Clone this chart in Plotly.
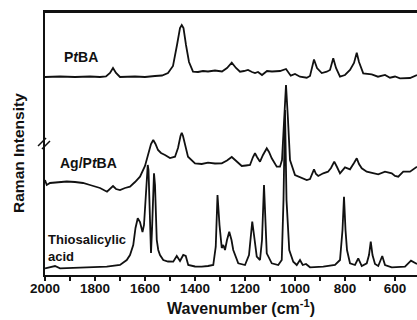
import plotly.graph_objects as go

# ---- data (wavenumber in cm^-1, intensity in arbitrary offset units) ----
ptba_wavenumber = [2000,1940,1880,1820,1780,1756,1740,1728,1716,1700,
                   1640,1600,1560,1532,1508,1488,1472,1460,1453,1446,
                   1436,1424,1408,1388,1368,1348,1320,1292,1272,1253,
                   1236,1220,1204,1188,1172,1160,1148,1132,1112,1092,
                   1060,1036,1017,1000,980,953,940,932,924,912,
                   904,893,873,860,847,836,820,800,780,764,
                   753,744,727,693,668,640,620,600,580,540,
                   512]
ptba_intensity = [198,198.5,198,198.5,198,198.5,202,207,202,198,
                  198.5,198,199,199.5,202,209,230,247,250,247,
                  230,213,203.3,203,204,203.5,204.5,203.5,207,212.3,
                  207,203.3,204,205,203,202,203,200,204,203.5,
                  204,206,199.3,201,198.3,197.3,199,207,215.5,207,
                  205,202,203.3,205,216.7,207,198.3,200,205,212,
                  222.3,213,201.7,200.7,198.3,200,197.3,198.5,196.7,197,
                  200]

ag_wavenumber = [2000,1993,1980,1960,1940,1913,1880,1848,1820,1780,
                 1752,1740,1728,1716,1700,1680,1660,1640,1620,1600,
                 1588,1576,1567,1558,1548,1536,1520,1500,1480,1468,
                 1458,1453,1448,1438,1428,1400,1373,1348,1320,1293,
                 1272,1253,1233,1213,1196,1180,1168,1160,1152,1140,
                 1128,1113,1104,1093,1073,1060,1052,1044,1036,1028,
                 1020,1000,973,953,940,932,924,916,907,887,
                 868,856,843,832,820,800,780,764,753,744,
                 733,713,687,667,640,613,600,587,567,540,
                 512]
ag_intensity = [95,90,92,92.5,93.5,93.5,93,92,90,87,
                83.3,86,89,86,85,87,88.3,93,98.3,109,
                120,131,135,131,125,122,120,117,118.3,127,
                139,142.3,139,127,118.3,111.7,111,112.3,111.5,111.7,
                114.5,118,113.3,109,109.5,110,118,121.7,118,113.3,
                120,126.7,123,116.7,108.3,108.3,115,155,190,155,
                115,100,96.7,95,96,101,105.7,101,99,101.7,
                103.3,107,113.3,108,101.7,107.7,105.7,112,116.7,111,
                106.7,103.3,101.7,100.7,103.3,101.7,99,98.3,103.3,103.3,
                108.3]

thio_wavenumber = [2000,1980,1960,1940,1880,1820,1753,1700,1673,1660,
                   1647,1638,1629,1620,1610,1604,1598,1592,1589,1586,
                   1580,1576,1572,1567,1564,1560,1553,1547,1540,1527,
                   1508,1487,1473,1460,1447,1437,1427,1400,1373,1348,
                   1327,1317,1310,1302,1293,1287,1280,1272,1263,1254,
                   1247,1227,1200,1184,1176,1171,1164,1153,1140,1132,
                   1124,1118,1113,1093,1067,1053,1046,1040,1034,1023,
                   1007,993,980,969,956,940,887,840,820,810,
                   804,798,792,780,760,747,733,713,704,697,
                   690,680,667,651,640,613,560,536,512]
thio_intensity = [6.7,7.5,9,6.7,7,7.5,8.3,10,15,20,
                  30,47,56.7,53,43,50,80,107,110,105,
                  50,22,45,95,101.7,90,35,25,20,15,
                  13.5,13.3,19,14,20,19,10,8.5,8.3,9,
                  10,28.3,80,50,27,30,25,35,43.3,35,
                  25,11.7,10,20,40,53.3,40,18.3,15,35,
                  90,50,21.7,11.7,10,15,75,165,75,25,
                  13.3,10,15,10,11,7.7,8.3,10,15,45,
                  78.3,45,25,11.7,10,16.7,9,11.7,20,33.3,
                  20,11,9,19,10,7.7,8.3,14.3,11]

x_range = [2000, 512]
y_range = [0, 263]
x_ticks = [2000, 1800, 1600, 1400, 1200, 1000, 800, 600]
x_tick_labels = ["2000", "1800", "1600", "1400", "1200", "1000", "800", "600"]

FONT = "Liberation Sans, Arial, sans-serif"
INK = "#111111"
line_style = dict(color=INK, width=1.8)

fig = go.Figure()
fig.add_trace(go.Scatter(x=ptba_wavenumber, y=ptba_intensity, mode="lines", line=line_style, name="PtBA"))
fig.add_trace(go.Scatter(x=ag_wavenumber, y=ag_intensity, mode="lines", line=line_style, name="Ag/PtBA"))
fig.add_trace(go.Scatter(x=thio_wavenumber, y=thio_intensity, mode="lines", line=line_style, name="Thiosalicylic acid"))

fig.update_layout(
    width=417, height=320,
    margin=dict(l=45, r=0, t=12, b=45),
    plot_bgcolor="white", paper_bgcolor="white",
    showlegend=False,
    font=dict(family=FONT, color=INK, weight="bold"),
    xaxis=dict(
        range=x_range, tickvals=x_ticks, ticktext=x_tick_labels,
        ticks="outside", ticklen=4, tickwidth=1.5, tickcolor=INK,
        ticklabelstandoff=-4,
        minor=dict(dtick=100, ticks="outside", ticklen=4, tickwidth=1.5, tickcolor=INK),
        showline=True, linecolor=INK, linewidth=2, mirror=True,
        showgrid=False, zeroline=False,
        tickfont=dict(family=FONT, size=13.5, color=INK, weight="bold"),
    ),
    yaxis=dict(
        range=y_range, showticklabels=False, ticks="",
        showline=True, linecolor=INK, linewidth=2,
        showgrid=False, zeroline=False,
    ),
)

ann_font = dict(family=FONT, size=14, color=INK, weight="bold")
fig.add_annotation(x=1933, y=218, xref="x", yref="y", text="P<i>t</i>BA", showarrow=False,
                   xanchor="left", yanchor="middle", font=ann_font)
fig.add_annotation(x=1948, y=112, xref="x", yref="y", text="Ag/P<i>t</i>BA", showarrow=False,
                   xanchor="left", yanchor="middle", font=ann_font)
fig.add_annotation(x=1997, y=27, xref="x", yref="y", text="Thiosalicylic<br>acid", showarrow=False,
                   xanchor="left", yanchor="middle", align="left",
                   font=dict(family=FONT, size=13, color=INK, weight="bold"))

# axis titles
fig.add_annotation(x=0.528, y=0, xref="paper", yref="paper", yshift=-32, text="Wavenumber (cm<sup>-1</sup>)",
                   showarrow=False, xanchor="center", yanchor="middle",
                   font=dict(family=FONT, size=16, color=INK, weight="bold"))
fig.add_annotation(x=0, y=0.464, xref="paper", yref="paper", xshift=-26, text="Raman Intensity",
                   textangle=-90, showarrow=False, xanchor="center", yanchor="middle",
                   font=dict(family=FONT, size=15.5, color=INK, weight="bold"))

# top frame line
fig.add_shape(type="line", xref="paper", yref="paper", x0=0, y0=1, x1=1, y1=1,
              line=dict(color=INK, width=2))

# axis break marks
for x0, y0, x1, y1 in [(-0.0188, 0.4905, 0.0027, 0.521), (-0.0081, 0.479, 0.0134, 0.5095)]:
    fig.add_shape(type="line", xref="paper", yref="paper", x0=x0, y0=y0, x1=x1, y1=y1,
                  line=dict(color=INK, width=1.5))

fig.write_html("out.html", config={"displayModeBar": False},
               post_script="document.body.style.margin='0';document.body.style.overflow='hidden';")
